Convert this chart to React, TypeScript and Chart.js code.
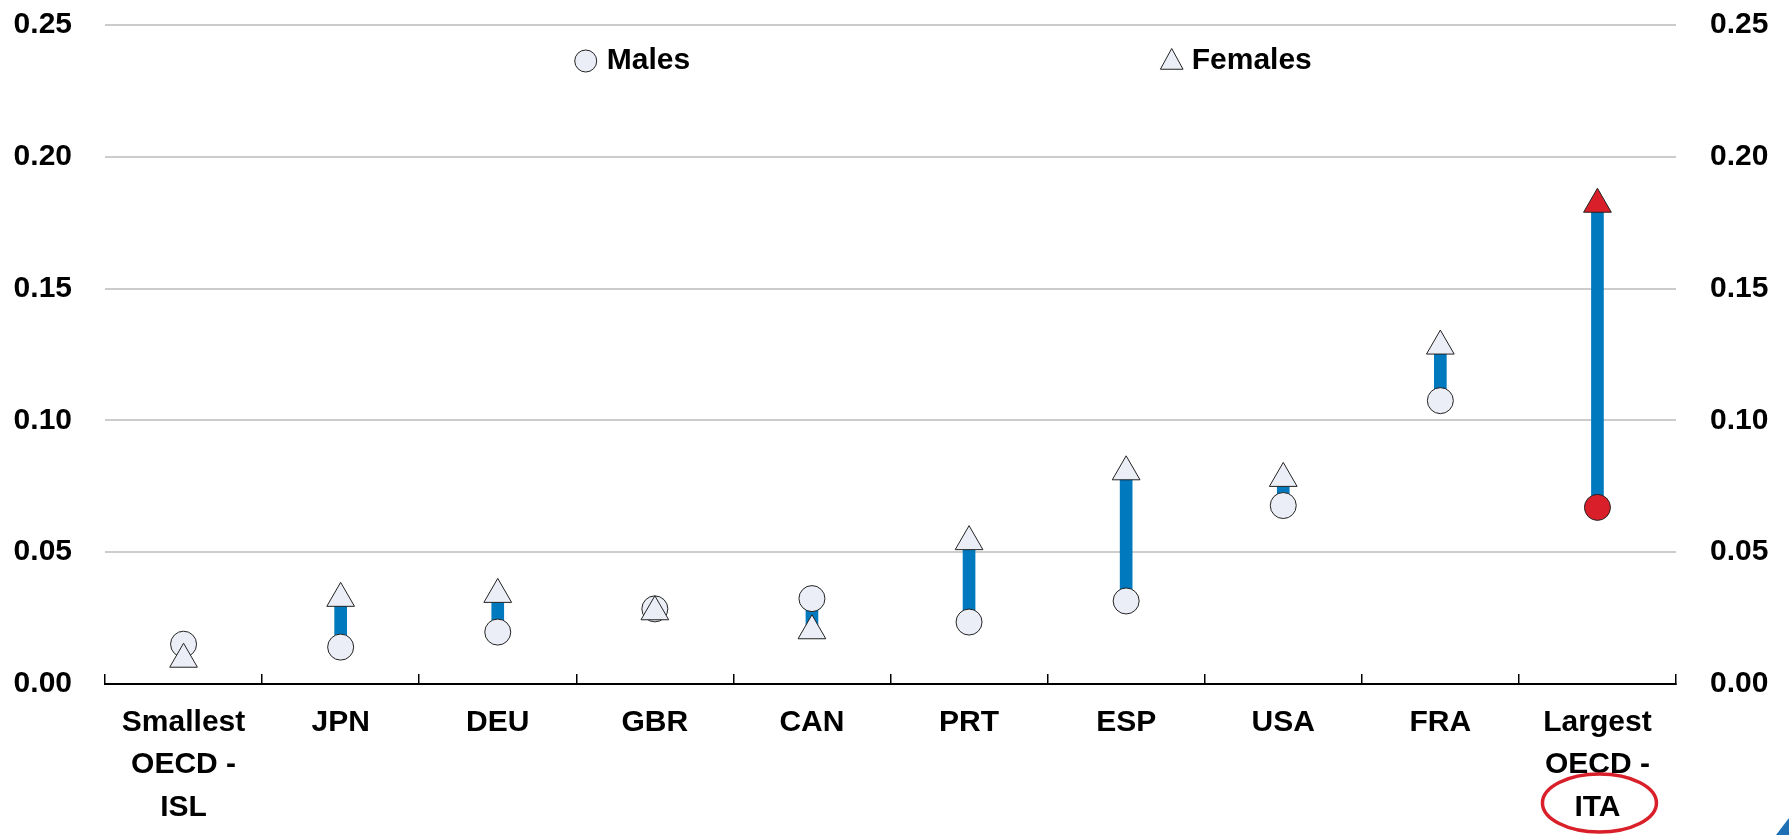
import React, { useEffect, useRef } from "react";
import { Chart, registerables } from "chart.js";

Chart.register(...registerables);

const categories: (string | string[])[] = [
  ["Smallest", "OECD -", "ISL"],
  "JPN",
  "DEU",
  "GBR",
  "CAN",
  "PRT",
  "ESP",
  "USA",
  "FRA",
  ["Largest", "OECD -", "ITA"],
];
const males: number[] = [0.0151, 0.014, 0.0197, 0.0285, 0.0324, 0.0235, 0.0315, 0.0677, 0.1075, 0.067];
const females: number[] = [0.0094, 0.0325, 0.034, 0.0274, 0.0202, 0.054, 0.0805, 0.078, 0.1282, 0.182];
const yTicks: number[] = [0, 0.05, 0.1, 0.15, 0.2, 0.25];
const legendLabels: string[] = ["Males", "Females"];

const FONT = '"Liberation Sans", Arial, sans-serif';
const MARKER_FILL = "#EBEEF6";
const RED = "#D9202A";
const BLUE = "#0079BF";

export default function App() {
  const ref = useRef<HTMLCanvasElement | null>(null);

  useEffect(() => {
    if (!ref.current) return;
    const n = categories.length;
    const highlight = n - 1;
    const markerColors = categories.map((_, i) => (i === highlight ? RED : MARKER_FILL));

    const overlay = {
      id: "overlay",
      afterDraw(chart: any) {
        const { ctx, chartArea, scales } = chart;
        const w = chartArea.right - chartArea.left;
        ctx.save();
        // legend
        const ly = chartArea.top + 36;
        const mx = chartArea.left + 0.306 * w;
        const fx = chartArea.left + 0.679 * w;
        ctx.lineWidth = 1;
        ctx.strokeStyle = "#222";
        ctx.fillStyle = MARKER_FILL;
        ctx.beginPath();
        ctx.arc(mx, ly, 11, 0, Math.PI * 2);
        ctx.fill();
        ctx.stroke();
        const r = 13.5;
        ctx.beginPath();
        ctx.moveTo(fx, ly - r + 1);
        ctx.lineTo(fx + r * 0.84, ly + r * 0.5 + 1.5);
        ctx.lineTo(fx - r * 0.84, ly + r * 0.5 + 1.5);
        ctx.closePath();
        ctx.fill();
        ctx.stroke();
        ctx.fillStyle = "#000";
        ctx.font = `bold 30px ${FONT}`;
        ctx.textBaseline = "middle";
        ctx.textAlign = "left";
        ctx.fillText(legendLabels[0], mx + 21, ly);
        ctx.fillText(legendLabels[1], fx + 20, ly);
        // red ellipse around highlighted label
        const ex = scales.x.getPixelForValue(highlight) + 2;
        ctx.strokeStyle = RED;
        ctx.lineWidth = 3.5;
        ctx.beginPath();
        ctx.ellipse(ex, chartArea.bottom + 119, 57, 29, 0, 0, Math.PI * 2);
        ctx.stroke();
        // corner mark
        ctx.fillStyle = "#1F6FB5";
        ctx.beginPath();
        ctx.moveTo(chart.width - 13, chart.height);
        ctx.lineTo(chart.width, chart.height - 17);
        ctx.lineTo(chart.width, chart.height);
        ctx.closePath();
        ctx.fill();
        ctx.restore();
      },
    };

    const tickFont = { family: FONT, size: 30, weight: "bold" as const, lineHeight: 1.42 };

    const chart = new Chart(ref.current, {
      type: "bar",
      data: {
        labels: categories as any,
        datasets: [
          {
            type: "bar",
            label: "gap",
            data: categories.map((_, i) => [males[i], females[i]]) as any,
            backgroundColor: BLUE,
            borderWidth: 0,
            barThickness: 12,
            order: 3,
          },
          {
            type: "line",
            label: legendLabels[0],
            data: males,
            showLine: false,
            pointStyle: "circle",
            pointRadius: 13,
            pointBorderWidth: 1,
            pointBorderColor: "#222",
            pointBackgroundColor: markerColors,
            order: 2,
          } as any,
          {
            type: "line",
            label: legendLabels[1],
            data: females,
            showLine: false,
            pointStyle: "triangle",
            pointRadius: 16,
            pointBorderWidth: 1,
            pointBorderColor: "#222",
            pointBackgroundColor: markerColors,
            order: 1,
          } as any,
        ],
      },
      options: {
        animation: false,
        responsive: true,
        maintainAspectRatio: false,
        events: [],
        layout: { padding: { top: 25, left: 0, right: 0, bottom: 0 } },
        plugins: { legend: { display: false }, tooltip: { enabled: false } },
        scales: {
          x: {
            type: "category",
            offset: true,
            grid: {
              offset: true,
              drawOnChartArea: false,
              drawTicks: true,
              tickLength: -10,
              color: "#000",
              lineWidth: 1.5,
            },
            border: { display: true, color: "#000", width: 2 },
            ticks: {
              color: "#000",
              font: tickFont,
              padding: 27,
              maxRotation: 0,
              minRotation: 0,
              autoSkip: false,
            },
            afterFit: (s: any) => {
              s.height = 151;
              s.paddingLeft = 0;
              s.paddingRight = 0;
            },
          },
          y: {
            position: "left",
            min: 0,
            max: 0.25,
            afterBuildTicks: (s: any) => {
              s.ticks = yTicks.map((v) => ({ value: v }));
            },
            grid: { color: "#CCCCCC", lineWidth: 2, drawTicks: false },
            border: { display: false },
            ticks: {
              color: "#000",
              font: tickFont,
              padding: 33,
              callback: (v: any) => Number(v).toFixed(2),
            },
            afterFit: (s: any) => {
              s.width = 105;
              s.paddingTop = 0;
              s.paddingBottom = 0;
            },
          },
          y2: {
            position: "right",
            min: 0,
            max: 0.25,
            afterBuildTicks: (s: any) => {
              s.ticks = yTicks.map((v) => ({ value: v }));
            },
            grid: { drawOnChartArea: false, drawTicks: false },
            border: { display: false },
            ticks: {
              color: "#000",
              font: tickFont,
              padding: 34,
              callback: (v: any) => Number(v).toFixed(2),
            },
            afterFit: (s: any) => {
              s.width = 113;
              s.paddingTop = 0;
              s.paddingBottom = 0;
            },
          },
        },
      },
      plugins: [overlay],
    });
    return () => chart.destroy();
  }, []);

  return (
    <div style={{ position: "fixed", left: 0, top: 0, width: 1789, height: 835, background: "#fff" }}>
      <canvas ref={ref} />
    </div>
  );
}
